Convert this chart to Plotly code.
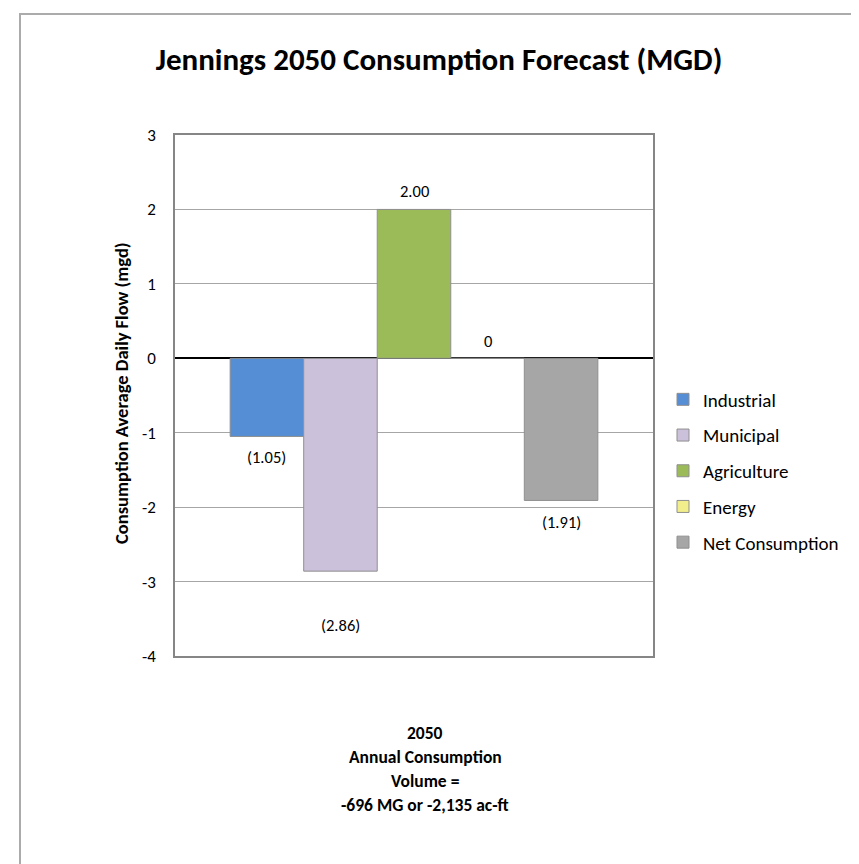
"""Jennings 2050 consumption forecast bar chart."""

import plotly.graph_objects as go

# data
categories = ["Industrial", "Municipal", "Agriculture", "Energy", "Net Consumption"]
values = [-1.05, -2.86, 2.00, 0.0, -1.91]
labels = ["(1.05)", "(2.86)", "2.00", "0", "(1.91)"]
colors = ["#558ED5", "#CCC1DA", "#9BBB59", "#F2EE8B", "#A6A6A6"]
y_ticks = [-4, -3, -2, -1, 0, 1, 2, 3]
note_lines = ["2050", "Annual Consumption", "Volume =", "-696 MG or -2,135 ac-ft"]
y_title = "Consumption Average Daily Flow (mgd)"

# page geometry (pixels)
W, H = 859, 864
PL, PR, PT, PB = 167, 645, 127, 648
FONT = "Carlito, Calibri, Lato, 'Liberation Sans', sans-serif"

# label offsets (px) from bar end; municipal label was moved further down
label_shift = [-21, -54, 18, 17, -22]


def px_x(x):
    return (x - PL) / (PR - PL)


def px_y(y):
    return (PB - y) / (PB - PT)


fig = go.Figure()
for i, (name, v, c) in enumerate(zip(categories, values, colors)):
    fig.add_trace(go.Bar(
        x=[i], y=[v], name=name, width=1, legendgroup=name,
        marker=dict(color=c, line=dict(color="#8f8f8f", width=1)),
        hoverinfo="name+y",
    ))
    fig.add_annotation(
        x=i, y=v, text=labels[i], showarrow=False, yshift=label_shift[i],
        font=dict(family=FONT, size=16.5, color="#000"),
    )

for k, line in enumerate(note_lines):
    fig.add_annotation(
        xref="paper", yref="paper", x=px_x(417), y=px_y(725 + 24 * k),
        text=f"<b>{line}</b>", showarrow=False, yanchor="middle",
        font=dict(family=FONT, size=17.5, color="#000"),
    )

# y axis title, placed by hand like the Excel original
fig.add_annotation(
    xref="paper", yref="paper", x=px_x(113), y=px_y(385),
    text=f"<b>{y_title}</b>", textangle=-90, showarrow=False,
    xanchor="center", yanchor="middle",
    font=dict(family=FONT, size=18.5, color="#000"),
)

# outer chart border (runs off the right and bottom edge of the page)
fig.add_shape(
    type="rect", xref="paper", yref="paper",
    x0=px_x(12), x1=px_x(W + 20), y0=px_y(H + 20), y1=px_y(6),
    line=dict(color="#ababab", width=2), layer="below",
)

fig.update_layout(
    width=W, height=H, barmode="overlay",
    paper_bgcolor="white", plot_bgcolor="white",
    margin=dict(l=PL, r=W - PR, t=PT, b=H - PB),
    title=dict(
        text="<b>Jennings 2050 Consumption Forecast (MGD)</b>",
        x=431 / W, xanchor="center", y=1 - 51 / H, yanchor="middle",
        font=dict(family=FONT, size=31, color="#000"),
    ),
    legend=dict(
        x=px_x(655), y=px_y(463), xanchor="left", yanchor="middle",
        font=dict(family=FONT, size=19, color="#000"),
        tracegroupgap=8, itemwidth=30, bgcolor="rgba(0,0,0,0)",
    ),
    showlegend=True,
)
fig.update_xaxes(
    range=[-1.25, len(categories) + 0.25], showticklabels=False,
    showgrid=False, zeroline=False, ticks="",
    showline=True, linecolor="#868686", linewidth=1.5, mirror=True,
)
fig.update_yaxes(
    range=[-4, 3], tickmode="array", tickvals=y_ticks,
    ticktext=[str(t) for t in y_ticks], ticks="",
    showgrid=True, gridcolor="#a6a6a6", gridwidth=1,
    zeroline=True, zerolinecolor="#000", zerolinewidth=2,
    showline=True, linecolor="#868686", linewidth=1.5, mirror=True,
    tickfont=dict(family=FONT, size=17, color="#000"),
    ticklabelstandoff=14,
)

fig.write_html("out.html")
